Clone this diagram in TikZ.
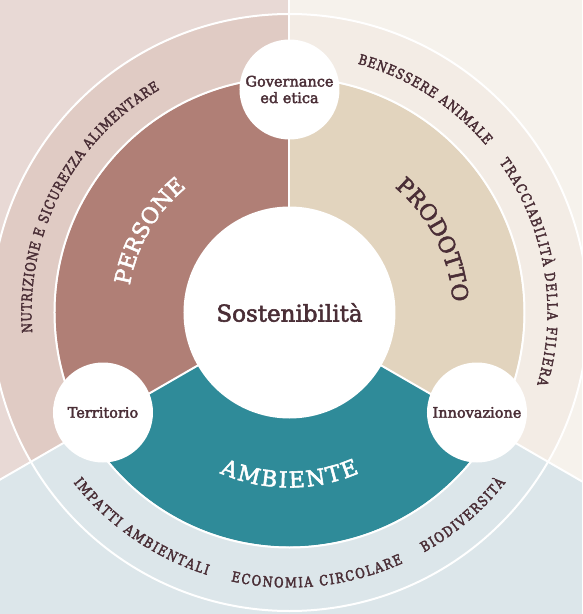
\documentclass[tikz,border=0pt]{standalone}
\usepackage{fontspec}
\setmainfont{DejaVu Serif}[FakeBold=2.5]
\newfontfamily\bandfam{DejaVu Serif}[FakeStretch=0.83,FakeBold=2.5]
\usetikzlibrary{decorations.text}
\definecolor{bgL}{HTML}{E8D9D5}
\definecolor{bandL}{HTML}{E0CBC4}
\definecolor{perscol}{HTML}{B07F76}
\definecolor{bgR}{HTML}{F6F2EC}
\definecolor{bandR}{HTML}{F3ECE5}
\definecolor{prodcol}{HTML}{E2D4BE}
\definecolor{bgB}{HTML}{DCE6EA}
\definecolor{ambcol}{HTML}{2F8B99}
\definecolor{ink}{HTML}{4A2E36}
\newcommand{\bandfont}{\bandfam\fontsize{14}{15}\selectfont\color{ink}}
\newcommand{\bigdark}{\fontsize{22}{24}\selectfont\color{ink}}
\newcommand{\bigwhite}{\fontsize{22}{24}\selectfont\color{white}}
\begin{document}
\begin{tikzpicture}[x=1pt,y=1pt,
  sep/.style={draw=white,line width=2pt},
  hub/.style={circle,fill=white,inner sep=0pt,text=ink,align=center},
  hubtext/.style={font=\fontsize{14.5}{16.5}\selectfont},
  arctext/.style={decorate,decoration={text along path,text align=fit to path,text={#1}}}]
\useasboundingbox (-289.5,-301.5) rectangle (292.5,312.5);
\clip (-289.5,-301.5) rectangle (292.5,312.5);
\coordinate (c) at (0,0);
% outer background
\fill[bgL] (c) -- (90:700pt) arc[start angle=90,end angle=210,radius=700pt] -- cycle;
\fill[bgR] (c) -- (-30:700pt) arc[start angle=-30,end angle=90,radius=700pt] -- cycle;
\fill[bgB] (c) -- (210:700pt) arc[start angle=210,end angle=330,radius=700pt] -- cycle;
% band
\fill[bandL] (c) -- (90:298.5pt) arc[start angle=90,end angle=210,radius=298.5pt] -- cycle;
\fill[bandR] (c) -- (-30:298.5pt) arc[start angle=-30,end angle=90,radius=298.5pt] -- cycle;
\fill[bgB] (c) -- (210:298.5pt) arc[start angle=210,end angle=330,radius=298.5pt] -- cycle;
% inner ring
\fill[perscol] (c) -- (90:234pt) arc[start angle=90,end angle=210,radius=234pt] -- cycle;
\fill[prodcol] (c) -- (-30:234pt) arc[start angle=-30,end angle=90,radius=234pt] -- cycle;
\fill[ambcol] (c) -- (210:234pt) arc[start angle=210,end angle=330,radius=234pt] -- cycle;
% white circles
\draw[sep] (c) circle[radius=298.5pt];
\draw[sep] (c) circle[radius=235pt];
% radial separators
\coordinate (eN) at (90:700pt);
\coordinate (eL) at (210:700pt);
\coordinate (eR) at (330:700pt);
\draw[sep] (c) -- (eN);
\draw[sep] (c) -- (eL);
\draw[sep] (c) -- (eR);
% hubs
\node[hub,minimum size=212pt,font=\fontsize{23}{26}\selectfont] (sost) at (0,0) {Sostenibilità};
\node[hub,hubtext,minimum size=100pt] (gov) at (0,223) {Governance\\ed etica};
\node[hub,hubtext,minimum size=100pt] (terr) at (-186.5,-100) {Territorio};
\node[hub,hubtext,minimum size=100pt] (innov) at (187.5,-100) {Innovazione};
% big labels
\path[arctext={|\bigwhite|PERSONE}] (170.4:162pt) arc[start angle=170.4,end angle=130.6,radius=162pt];
\path[arctext={|\bigdark|PRODOTTO}] (50:163.5pt) arc[start angle=50,end angle=4,radius=163.5pt];
\path[arctext={|\bigwhite|AMBIENTE}] (246.5:175pt) arc[start angle=246.5,end angle=293.5,radius=175pt];
% band labels
\path[arctext={|\bandfont|NUTRIZIONE E SICUREZZA ALIMENTARE}] (184.5:258pt) arc[start angle=184.5,end angle=120.2,radius=258pt];
\path[arctext={|\bandfont|BENESSERE ANIMALE}] (74.7:258pt) arc[start angle=74.7,end angle=40.4,radius=258pt];
\path[arctext={|\bandfont|TRACCIABILITÀ DELLA FILIERA}] (35.6:258pt) arc[start angle=35.6,end angle=-16.2,radius=258pt];
\path[arctext={|\bandfont|IMPATTI AMBIENTALI}] (218.2:275pt) arc[start angle=218.2,end angle=252.6,radius=275pt];
\path[arctext={|\bandfont|ECONOMIA CIRCOLARE}] (257.7:275pt) arc[start angle=257.7,end angle=294.4,radius=275pt];
\path[arctext={|\bandfont|BIODIVERSITÀ}] (299.3:275pt) arc[start angle=299.3,end angle=321.8,radius=275pt];
\end{tikzpicture}
\end{document}
